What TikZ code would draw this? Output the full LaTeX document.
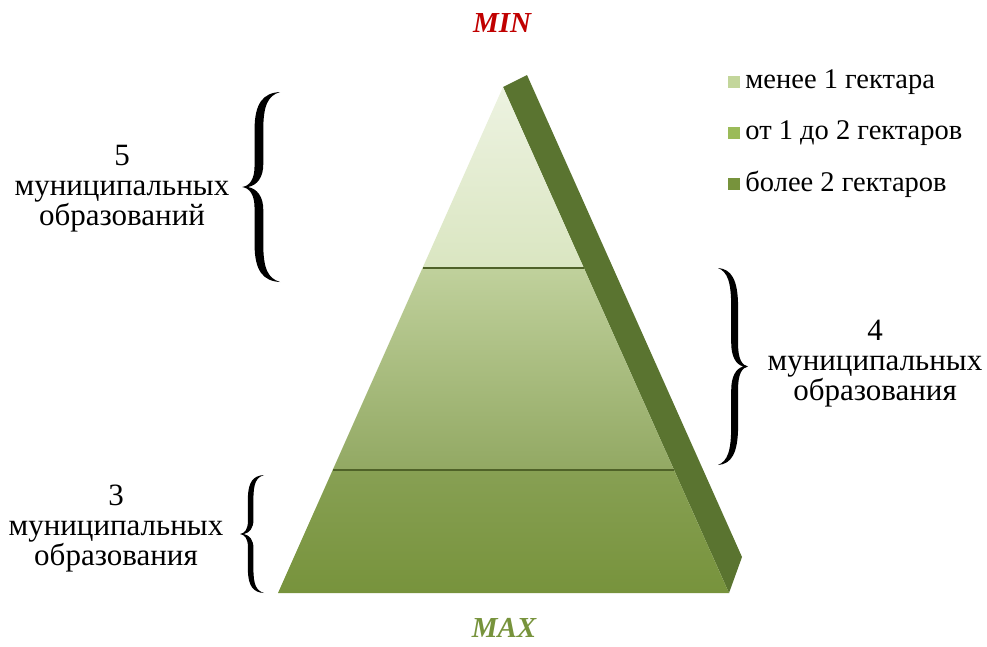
\documentclass[tikz,border=0pt]{standalone}
\usepackage{fontspec}
\setmainfont{Liberation Serif}
\usepackage{tikz}
\usetikzlibrary{positioning,calc}
\usepackage{xcolor}

\definecolor{minred}{HTML}{C00000}
\definecolor{olive}{HTML}{77933C}
\definecolor{olivedark}{HTML}{5A7430}
\definecolor{olivelight}{HTML}{C3D69B}
\definecolor{olivemid}{HTML}{9BBB59}
\definecolor{tierline}{HTML}{4F6228}

\tikzset{
	curly/.pic={
		\fill (1,0) .. controls (0.55,0.005) and (0.33,0.06) .. (0.33,0.2)
			-- (0.33,0.39) .. controls (0.33,0.46) and (0.2,0.495) .. (0,0.5)
			.. controls (0.2,0.505) and (0.33,0.54) .. (0.33,0.61)
			-- (0.33,0.8) .. controls (0.33,0.94) and (0.55,0.995) .. (1,1)
			.. controls (0.68,0.98) and (0.56,0.93) .. (0.56,0.8)
			-- (0.56,0.62) .. controls (0.56,0.55) and (0.4,0.51) .. (0.16,0.5)
			.. controls (0.4,0.49) and (0.56,0.45) .. (0.56,0.38)
			-- (0.56,0.2) .. controls (0.56,0.07) and (0.68,0.02) .. (1,0) -- cycle;
	},
	munlabel/.style={align=center,font=\fontsize{31}{30}\selectfont},
	legsq/.style={minimum size=12pt,inner sep=0pt},
	legtext/.style={font=\fontsize{28.5}{30}\selectfont,inner sep=0pt},
	endlabel/.style={font=\fontsize{29}{30}\selectfont\bfseries\itshape,inner sep=0pt},
	divline/.style={tierline,line width=2pt}
}

\begin{document}
\begin{tikzpicture}[x=1pt,y=-1pt]
		
		\useasboundingbox (0,0) rectangle (987,646);
		
		\coordinate (apex) at (503,87);
		\coordinate (bl) at (278,593);
		\coordinate (br) at (729,593);
		\coordinate (backtop) at (527,75);
		\coordinate (backbot) at (742,557);
		
		\coordinate (l1) at ($(apex)!0.3577!(bl)$);
		\coordinate (r1) at ($(apex)!0.3577!(br)$);
		\coordinate (l2) at ($(apex)!0.757!(bl)$);
		\coordinate (r2) at ($(apex)!0.757!(br)$);
		
		\fill[olivedark] (apex) -- (backtop) -- (backbot) -- (br) -- cycle;
		\shade[top color=olivelight!30, bottom color=olivelight!62] (apex) -- (r1) -- (l1) -- cycle;
		\shade[top color=olivelight!75!olive!80, bottom color=olive!80] (l1) -- (r1) -- (r2) -- (l2) -- cycle;
		\shade[top color=olive!88, bottom color=olive] (l2) -- (r2) -- (br) -- (bl) -- cycle;
		
		\draw[divline] (l1) -- (r1);
		\draw[divline] (l2) -- (r2);
		
		\node[endlabel, text=minred] (minlbl) at (502,23) {MIN};
		\node[endlabel, text=olive] (maxlbl) at (504,628) {MAX};
		
		\pic[xscale=38, yscale=190] at (242,92) {curly};
		\pic[xscale=24, yscale=118] at (240,475) {curly};
		\pic[xscale=-30, yscale=197] at (748,268) {curly};
		
		\node[munlabel] (topgroup) at (122,189) {5\\муниципальных\\образований};
		\node[munlabel] (midgroup) at (875,364) {4\\муниципальных\\образования};
		\node[munlabel] (botgroup) at (116,529) {3\\муниципальных\\образования};
		
		\node[legsq, fill=olivelight] (sq1) at (734,82) {};
		\node[legsq, fill=olivemid] (sq2) at (734,133) {};
		\node[legsq, fill=olive] (sq3) at (734,184) {};
		\node[legtext, right=5pt of sq1] (leg1) {менее 1 гектара};
		\node[legtext, right=5pt of sq2] (leg2) {от 1 до 2 гектаров};
		\node[legtext, right=5pt of sq3] (leg3) {более 2 гектаров};
		
	\end{tikzpicture}
\end{document}
